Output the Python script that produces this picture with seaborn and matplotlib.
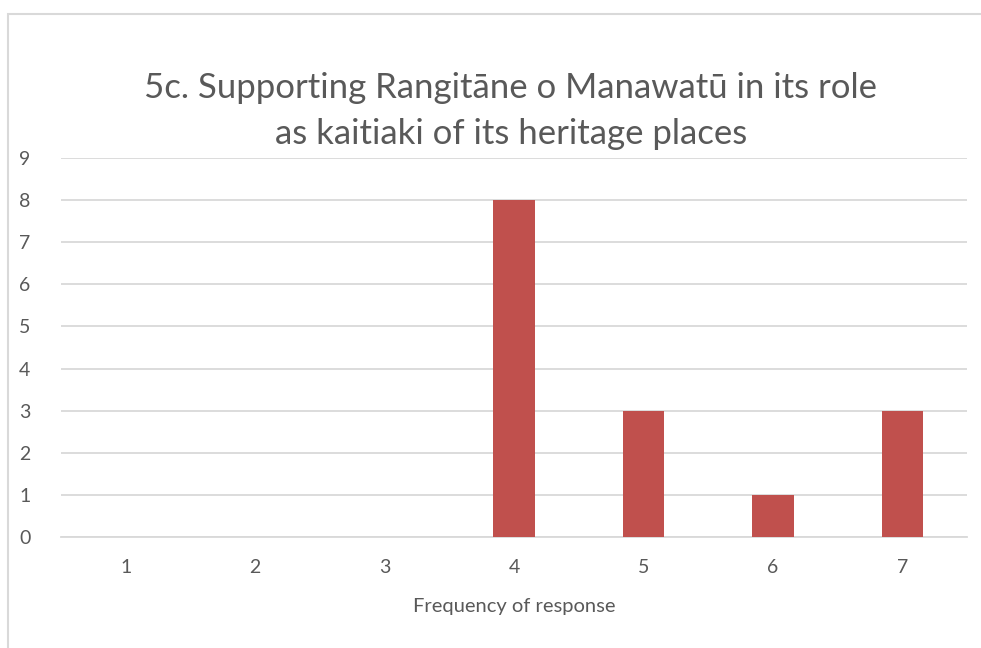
import seaborn as sns
import matplotlib.pyplot as plt
import matplotlib.patches as patches
import pandas as pd

categories = ["1", "2", "3", "4", "5", "6", "7"]
counts = [0, 0, 0, 8, 3, 1, 3]
y_ticks = [0, 1, 2, 3, 4, 5, 6, 7, 8, 9]
title = "5c. Supporting Rangitāne o Manawatū in its role\nas kaitiaki of its heritage places"
x_label = "Frequency of response"

df = pd.DataFrame({"response": categories, "count": counts})

sns.set_theme(style="white")
plt.rcParams["font.family"] = ["Lato", "DejaVu Sans"]

fig = plt.figure(figsize=(9.81, 6.48), dpi=100)
ax = fig.add_axes([61 / 981, 1 - 537 / 648, (967 - 61) / 981, (537 - 158) / 648])

sns.barplot(data=df, x="response", y="count", order=categories,
            color="#C0504D", width=0.32, saturation=1, ax=ax, zorder=3,
            edgecolor="none")

ax.set_ylim(0, 9)
ax.set_yticks(y_ticks)
ax.set_xlim(-0.5, len(categories) - 0.5)
ax.grid(axis="y", color="#D9D9D9", linewidth=1.3, zorder=0)
ax.grid(axis="x", visible=False)
for side in ["left", "right", "top"]:
    ax.spines[side].set_visible(False)
ax.spines["bottom"].set_color("#D9D9D9")
ax.spines["bottom"].set_linewidth(1.3)
ax.tick_params(axis="both", length=0, labelsize=14, labelcolor="#595959")
ax.tick_params(axis="y", pad=22)
ax.tick_params(axis="x", pad=16)
ax.set_ylabel("")
ax.set_xlabel(x_label, fontsize=14.5, color="#595959", labelpad=16)

fig.text(511 / 981, 1 - 111 / 648, title, ha="center", va="center",
         fontsize=25, color="#595959", linespacing=1.5)

fig.patches.append(patches.Rectangle((8 / 981, -0.05), 1.0, 1 - 14 / 648 + 0.05,
                                     transform=fig.transFigure, fill=False,
                                     edgecolor="#D9D9D9", linewidth=1.5))

fig.savefig("out.png", dpi=100)
